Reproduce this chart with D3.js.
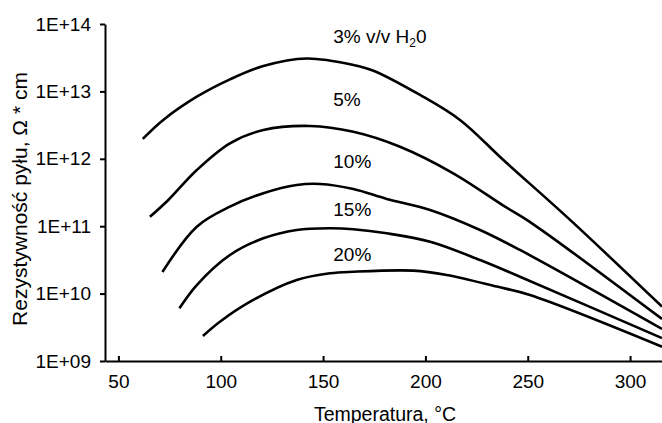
<!DOCTYPE html>
<html>
<head>
<meta charset="utf-8">
<script src="https://cdn.jsdelivr.net/npm/d3@7"></script>
<style>
  body { margin: 0; background: #fff; }
  svg text { font-family: Arial, "Liberation Sans", sans-serif; fill: #000; }
</style>
</head>
<body>
<svg id="chart" width="662" height="423"></svg>
<script>
// Dust resistivity vs. temperature for several water-vapour contents
const seriesNames = ["3%", "5%", "10%", "15%", "20%"];

const temp3 = [61.9, 71.9, 88.3, 104.5, 120.8, 142.0, 164.8, 174.6, 197.4, 216.9, 238.1, 270.7, 315.6];
const res3  = [1.97e12, 3.77e12, 8.34e12, 1.51e13, 2.38e13, 3.08e13, 2.47e13, 2.03e13, 8.85e12, 3.77e12, 9.59e11, 1.24e11, 6.40e9];

const temp5 = [65.4, 74.4, 88.3, 104.5, 120.8, 143.6, 164.8, 187.6, 213.6, 238.9, 249.5, 265.8, 315.6];
const res5  = [1.38e11, 2.45e11, 6.82e11, 1.70e12, 2.67e12, 3.07e12, 2.52e12, 1.51e12, 6.10e11, 1.95e11, 1.24e11, 5.57e10, 4.20e9];

const temp10 = [71.5, 88.3, 104.5, 120.8, 137.1, 148.5, 164.8, 181.1, 202.3, 226.7, 246.2, 315.6];
const res10  = [2.09e10, 9.84e10, 1.95e11, 3.08e11, 4.08e11, 4.23e11, 3.56e11, 2.54e11, 1.74e11, 8.79e10, 4.44e10, 2.99e9];

const temp15 = [79.8, 88.3, 104.5, 120.8, 137.1, 153.4, 164.8, 181.1, 202.3, 226.7, 246.2, 315.6];
const res15  = [6.05e9, 1.34e10, 3.74e10, 6.61e10, 8.79e10, 9.31e10, 9.00e10, 7.85e10, 5.89e10, 3.15e10, 1.78e10, 2.19e9];

const temp20 = [91.3, 99.6, 115.9, 137.1, 153.4, 164.8, 194.1, 210.4, 234.9, 251.1, 315.6];
const res20  = [2.35e9, 3.83e9, 8.04e9, 1.59e10, 2.00e10, 2.11e10, 2.19e10, 1.89e10, 1.27e10, 9.53e9, 1.63e9];

const xTicks = [50, 100, 150, 200, 250, 300];
const yTicks = [1e9, 1e10, 1e11, 1e12, 1e13, 1e14];

// Curve labels, anchored in data units (temperature, resistivity)
const labelTemp = [155, 155, 155, 155, 155];
const labelRes  = [5.25e13, 6.0e12, 7.4e11, 1.42e11, 3.08e10];

const xTitle = "Temperatura, °C";
const yTitle = "Rezystywność pyłu, Ω * cm";

const series = [
  { name: seriesNames[0], t: temp3,  r: res3 },
  { name: seriesNames[1], t: temp5,  r: res5 },
  { name: seriesNames[2], t: temp10, r: res10 },
  { name: seriesNames[3], t: temp15, r: res15 },
  { name: seriesNames[4], t: temp20, r: res20 }
];

const svg = d3.select("#chart");
const W = 662, H = 423;
const mLeft = 105, mTop = 24, mBottom = 361;

const x = d3.scaleLinear().domain([43.45, 315.6]).range([mLeft, W]);
const y = d3.scaleLog().domain([1e9, 1e14]).range([mBottom, mTop]);

const fmtExp = d => "1E+" + String(Math.round(Math.log10(d))).padStart(2, "0");

// Y axis
const gy = svg.append("g")
  .attr("transform", `translate(${mLeft},0)`)
  .call(d3.axisLeft(y).tickValues(yTicks).tickFormat(fmtExp)
    .tickSizeInner(5).tickSizeOuter(0).tickPadding(9));
gy.select(".domain").attr("stroke", "#000").attr("stroke-width", 2);
gy.selectAll(".tick line").attr("stroke", "#000").attr("stroke-width", 2);
gy.selectAll(".tick text").attr("font-size", 19).attr("font-family", null);

// X axis
const gx = svg.append("g")
  .attr("transform", `translate(0,${mBottom})`)
  .call(d3.axisBottom(x).tickValues(xTicks).tickFormat(d3.format("d"))
    .tickSizeInner(-5).tickSizeOuter(0).tickPadding(14));
gx.select(".domain").attr("stroke", "#000").attr("stroke-width", 2);
gx.selectAll(".tick line").attr("stroke", "#000").attr("stroke-width", 2);
gx.selectAll(".tick text").attr("font-size", 19).attr("font-family", null);

// Curves
const line = d3.line()
  .x(d => x(d[0]))
  .y(d => y(d[1]))
  .curve(d3.curveCatmullRom.alpha(0.5));

svg.append("g")
  .selectAll("path")
  .data(series)
  .join("path")
  .attr("d", s => line(s.t.map((t, i) => [t, s.r[i]])))
  .attr("fill", "none")
  .attr("stroke", "#000")
  .attr("stroke-width", 2.6)
  .attr("stroke-linejoin", "round");

// Curve labels
const lab = svg.append("g").attr("font-size", 19);
seriesNames.forEach((name, i) => {
  const t = lab.append("text")
    .attr("x", x(labelTemp[i]))
    .attr("y", y(labelRes[i]));
  if (i === 0) {
    t.append("tspan").text(name + " v/v H");
    t.append("tspan").attr("font-size", 12).attr("dy", 4).text("2");
    t.append("tspan").attr("dy", -4).text("0");
  } else {
    t.text(name);
  }
});

// Axis titles
svg.append("text")
  .attr("x", 385).attr("y", 420.5)
  .attr("text-anchor", "middle")
  .attr("font-size", 19.5)
  .text(xTitle);

svg.append("text")
  .attr("transform", "translate(27,199) rotate(-90)")
  .attr("text-anchor", "middle")
  .attr("font-size", 21)
  .text(yTitle);
</script>
</body>
</html>
